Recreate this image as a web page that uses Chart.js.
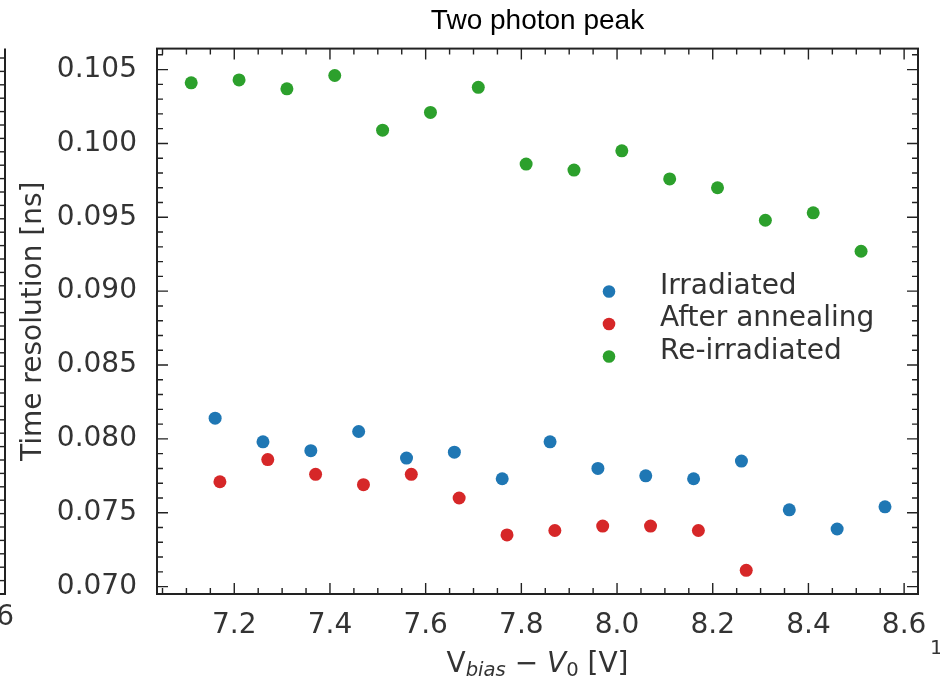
<!DOCTYPE html>
<html lang="en">
<head>
<meta charset="UTF-8">
<title>Two photon peak</title>
<script src="https://cdn.jsdelivr.net/npm/chart.js"></script>
<style>
    html, body { margin: 0; padding: 0; background: #fff; }
    #wrap { width: 940px; height: 678px; }
</style>
</head>
<body>
<div id="wrap"><canvas id="chart" width="940" height="678"></canvas></div>
<script>
// values
const irradiatedBias = [7.16, 7.26, 7.36, 7.46, 7.56, 7.66, 7.76, 7.86, 7.96, 8.06, 8.16, 8.26, 8.36, 8.46, 8.56];
const irradiatedRes  = [0.0814, 0.0798, 0.0792, 0.0805, 0.0787, 0.0791, 0.0773, 0.0798, 0.0780, 0.0775, 0.0773, 0.0785, 0.0752, 0.0739, 0.0754];

const annealedBias = [7.17, 7.27, 7.37, 7.47, 7.57, 7.67, 7.77, 7.87, 7.97, 8.07, 8.17, 8.27];
const annealedRes  = [0.0771, 0.0786, 0.0776, 0.0769, 0.0776, 0.0760, 0.0735, 0.0738, 0.0741, 0.0741, 0.0738, 0.0711];

const reirrBias = [7.11, 7.21, 7.31, 7.41, 7.51, 7.61, 7.71, 7.81, 7.91, 8.01, 8.11, 8.21, 8.31, 8.41, 8.51];
const reirrRes  = [0.1041, 0.1043, 0.1037, 0.1046, 0.1009, 0.1021, 0.1038, 0.0986, 0.0982, 0.0995, 0.0976, 0.0970, 0.0948, 0.0953, 0.0927];

const seriesLabels = ['Irradiated', 'After annealing', 'Re-irradiated'];
const seriesColors = ['#1f77b4', '#d62728', '#2ca02c'];

const xTicks = [7.2, 7.4, 7.6, 7.8, 8.0, 8.2, 8.4, 8.6];
const yTicks = [0.070, 0.075, 0.080, 0.085, 0.090, 0.095, 0.100, 0.105];

const tickFont = { family: 'DejaVu Sans', size: 28 };
const inkColor = '#333';

function pts(xs, ys) {
    return xs.map((x, i) => ({ x: x, y: ys[i] }));
}

// frame, inward ticks, legend, math x-label and the cut-off bits of neighbouring panels
const decorations = {
    id: 'decorations',
    afterDraw(chart) {
        const ctx = chart.ctx;
        const a = chart.chartArea;
        const xs = chart.scales.x, ys = chart.scales.y;
        ctx.save();
        ctx.strokeStyle = '#222';

        // minor + major ticks, pointing in, on all four sides
        ctx.lineWidth = 1.4;
        for (let i = 141; i <= 172; i++) {
            const v = i * 0.05;
            if (v < xs.min || v > xs.max) continue;
            const px = xs.getPixelForValue(v);
            const len = (i % 4 === 0) ? 11 : 6;
            ctx.beginPath();
            ctx.moveTo(px, a.bottom); ctx.lineTo(px, a.bottom - len);
            ctx.moveTo(px, a.top); ctx.lineTo(px, a.top + len);
            ctx.stroke();
        }
        for (let i = 70; i <= 106; i++) {
            const v = i / 1000;
            if (v < ys.min || v > ys.max) continue;
            const py = ys.getPixelForValue(v);
            const len = (i % 5 === 0) ? 11 : 6;
            ctx.beginPath();
            ctx.moveTo(a.left, py); ctx.lineTo(a.left + len, py);
            ctx.moveTo(a.right, py); ctx.lineTo(a.right - len, py);
            ctx.stroke();
        }

        // axes frame
        ctx.lineWidth = 2;
        ctx.strokeRect(a.left, a.top, a.right - a.left, a.bottom - a.top);

        // legend inside the plot
        const legX = 609, legY = [291.5, 324, 356.5];
        ctx.font = '28px "DejaVu Sans"';
        ctx.textBaseline = 'middle';
        ctx.textAlign = 'left';
        chart.data.datasets.forEach((ds, i) => {
            ctx.fillStyle = ds.backgroundColor;
            ctx.beginPath();
            ctx.arc(legX, legY[i], 6.3, 0, Math.PI * 2);
            ctx.fill();
            ctx.fillStyle = inkColor;
            ctx.fillText(ds.label, 660, legY[i] - 5);
        });

        // x label: V_bias - V_0 [V]
        const parts = [
            { t: 'V', f: '28px "DejaVu Sans"', dy: 0 },
            { t: 'bias', f: 'italic 19.6px "DejaVu Sans"', dy: 4 },
            { t: ' \u2212 ', f: '28px "DejaVu Sans"', dy: 0 },
            { t: 'V', f: 'italic 28px "DejaVu Sans"', dy: 0 },
            { t: '0', f: '19.6px "DejaVu Sans"', dy: 4 },
            { t: ' [V]', f: '28px "DejaVu Sans"', dy: 0 }
        ];
        let total = 0;
        parts.forEach(p => { ctx.font = p.f; p.w = ctx.measureText(p.t).width; total += p.w; });
        let cx = (a.left + a.right) / 2 - total / 2;
        ctx.textBaseline = 'alphabetic';
        ctx.fillStyle = inkColor;
        parts.forEach(p => { ctx.font = p.f; ctx.fillText(p.t, cx, 672 + p.dy); cx += p.w; });

        // neighbouring panels, cropped at the edges
        ctx.lineWidth = 2;
        ctx.beginPath();
        ctx.moveTo(5, a.top); ctx.lineTo(5, a.bottom); ctx.lineTo(0, a.bottom);
        ctx.stroke();
        ctx.lineWidth = 1.4;
        for (let y = a.bottom - 13.4; y > a.top + 2; y -= 13.4) {
            ctx.beginPath(); ctx.moveTo(5, y); ctx.lineTo(0, y); ctx.stroke();
        }
        ctx.font = '28px "DejaVu Sans"';
        ctx.textBaseline = 'middle';
        ctx.textAlign = 'right';
        ctx.fillText('8.6', 14, 618);
        ctx.font = '20px "DejaVu Sans"';
        ctx.textAlign = 'left';
        ctx.fillText('1', 930, 649);
        ctx.restore();
    }
};

const chart = new Chart(document.getElementById('chart'), {
    type: 'scatter',
    data: {
        datasets: [
            { label: seriesLabels[0], data: pts(irradiatedBias, irradiatedRes), backgroundColor: seriesColors[0] },
            { label: seriesLabels[1], data: pts(annealedBias, annealedRes), backgroundColor: seriesColors[1] },
            { label: seriesLabels[2], data: pts(reirrBias, reirrRes), backgroundColor: seriesColors[2] }
        ]
    },
    options: {
        responsive: false,
        devicePixelRatio: 1,
        animation: false,
        layout: { padding: { left: 0, right: 22, top: 0, bottom: 0 } },
        elements: { point: { radius: 6.5, hoverRadius: 6.5, borderWidth: 0 } },
        plugins: {
            legend: { display: false },
            tooltip: { enabled: false },
            title: {
                display: true,
                text: 'Two photon peak',
                fullSize: false,
                color: '#000',
                font: { family: 'Liberation Sans', size: 28, weight: 'normal' },
                padding: { top: 4, bottom: 11 }
            }
        },
        scales: {
            x: {
                type: 'linear',
                min: 7.0385,
                max: 8.629,
                grid: { display: false },
                border: { display: false },
                ticks: {
                    font: tickFont, color: inkColor, padding: 7, maxRotation: 0,
                    callback: v => v.toFixed(1)
                },
                afterBuildTicks: s => { s.ticks = xTicks.map(v => ({ value: v })); },
                afterFit: s => { s.height = 84; }
            },
            y: {
                min: 0.0695,
                max: 0.10642,
                grid: { display: false },
                border: { display: false },
                ticks: {
                    font: tickFont, color: inkColor, padding: 12,
                    callback: v => v.toFixed(3)
                },
                title: {
                    display: true,
                    text: 'Time resolution [ns]',
                    color: inkColor,
                    font: { family: 'DejaVu Sans', size: 28 },
                    padding: { top: 16.7, bottom: 0 }
                },
                afterBuildTicks: s => { s.ticks = yTicks.map(v => ({ value: v })); },
                afterFit: s => { s.width = 157; }
            }
        }
    },
    plugins: [decorations]
});
</script>
</body>
</html>
